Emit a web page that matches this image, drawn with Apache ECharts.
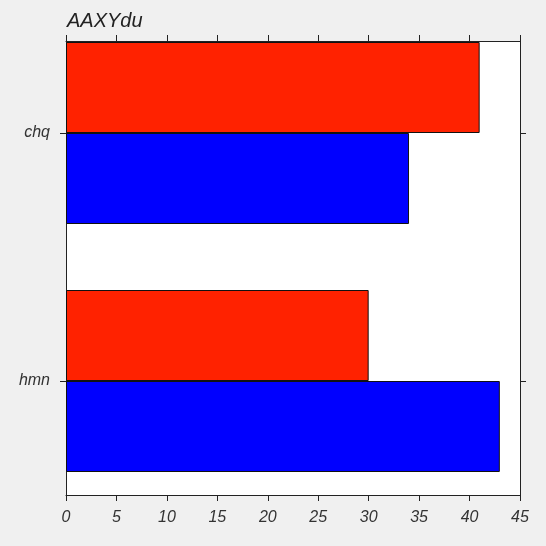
<!DOCTYPE html>
<html>
<head>
<meta charset="utf-8">
<script src="https://cdn.jsdelivr.net/npm/echarts@6/dist/echarts.min.js"></script>
<style>
  html, body { margin: 0; padding: 0; background: #f0f0f0; }
  #chart { width: 546px; height: 546px; }
</style>
</head>
<body>
<div id="chart"></div>
<script>
// data
var categories = ['hmn', 'chq'];
var redValues = [30, 41];
var blueValues = [43, 34];
var xTicks = [0, 5, 10, 15, 20, 25, 30, 35, 40, 45];

var chart = echarts.init(document.getElementById('chart'));

var font = { fontFamily: 'Liberation Sans', fontStyle: 'italic', color: '#333', fontSize: 16 };
var lineStyle = { color: '#222', width: 1 };

// frame axes (grid 0)
function frameX(pos, showLabel) {
	return {
		type: 'value', gridIndex: 0, position: pos,
		min: xTicks[0], max: xTicks[xTicks.length - 1], interval: 5,
		axisLine: { show: true, onZero: false, lineStyle: lineStyle },
		axisTick: { show: true, inside: false, length: 6, lineStyle: lineStyle },
		axisLabel: Object.assign({ show: showLabel, margin: 15 }, font),
		splitLine: { show: false }
	};
}
function frameY(pos) {
	return {
		type: 'value', gridIndex: 0, position: pos, min: 0, max: 1,
		axisLine: { show: true, onZero: false, lineStyle: lineStyle },
		axisTick: { show: false }, axisLabel: { show: false }, splitLine: { show: false }
	};
}
// category axes (grid 1)
function catY(pos, showLabel) {
	return {
		type: 'category', gridIndex: 1, position: pos, data: categories,
		axisLine: { show: false, onZero: false },
		axisTick: { show: true, alignWithLabel: true, inside: false, length: 6, lineStyle: lineStyle },
		axisLabel: Object.assign({ show: showLabel, margin: 16 }, font),
		splitLine: { show: false }
	};
}

var option = {
	backgroundColor: '#f0f0f0',
	animation: false,
	title: {
		text: 'AAXYdu', left: 67, top: 11, padding: 0,
		textStyle: { fontFamily: 'Liberation Sans', fontStyle: 'italic', fontWeight: 'normal', fontSize: 20, color: '#222' }
	},
	grid: [
		{ left: 66, right: 26, top: 41, bottom: 51, show: true, backgroundColor: '#ffffff', borderWidth: 0 },
		{ left: 66, right: 26, top: 9, bottom: 41 }
	],
	xAxis: [
		frameX('bottom', true),
		frameX('top', false),
		{ type: 'value', gridIndex: 1, min: 0, max: 45, show: false }
	],
	yAxis: [
		frameY('left'),
		frameY('right'),
		catY('left', true),
		catY('right', false)
	],
	series: [
		{
			name: 'red', type: 'bar', xAxisIndex: 2, yAxisIndex: 2,
			data: redValues, barWidth: 91, barGap: 0,
			itemStyle: { color: '#ff2200', borderColor: '#111', borderWidth: 1 }
		},
		{
			name: 'blue', type: 'bar', xAxisIndex: 2, yAxisIndex: 2,
			data: blueValues, barWidth: 91, barGap: 0,
			itemStyle: { color: '#0000ff', borderColor: '#111', borderWidth: 1 }
		}
	]
};

chart.setOption(option);
</script>
</body>
</html>
